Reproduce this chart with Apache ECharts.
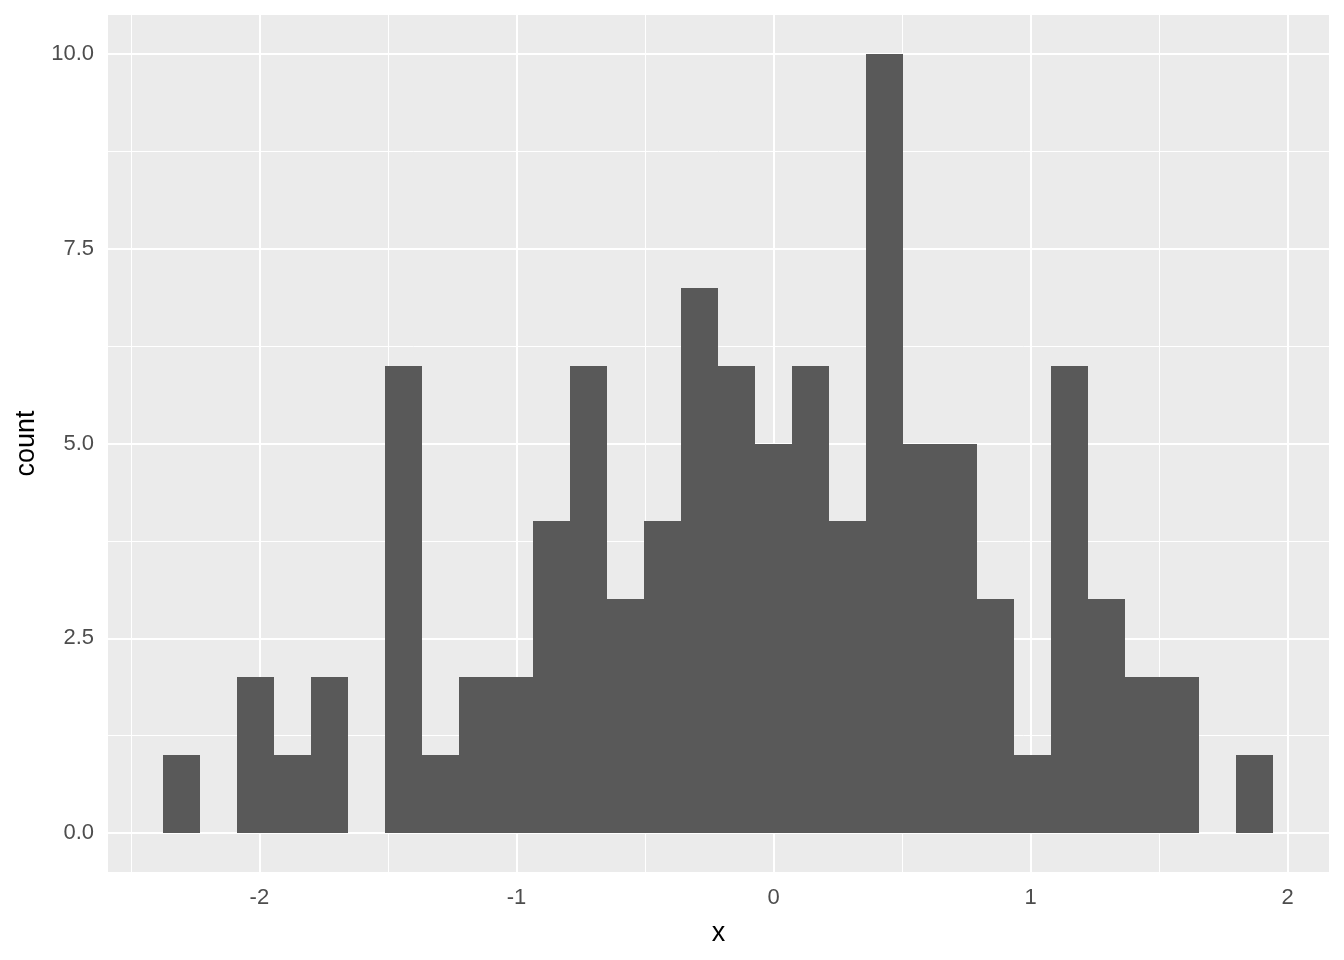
<!DOCTYPE html>
<html>
<head>
<meta charset="utf-8">
<script src="https://cdn.jsdelivr.net/npm/echarts@6/dist/echarts.min.js"></script>
<style>
html,body{margin:0;padding:0;background:#fff;}
#chart{width:1344px;height:960px;}
</style>
</head>
<body>
<div id="chart"></div>
<script>
// Histogram data (30 bins)
const binStart = -2.3735;
const binWidth = 0.14393;
const counts = [1,0,2,1,2,0,6,1,2,2,4,6,3,4,7,6,5,6,4,10,5,5,3,1,6,3,2,2,0,1];
const xTicks = [-2,-1,0,1,2];
const xMinor = [-2.5,-1.5,-0.5,0.5,1.5];
const yTicks = [0,2.5,5,7.5,10];
const yMinor = [1.25,3.75,6.25,8.75];
const xRange = [-2.589, 2.161];
const yRange = [-0.5, 10.5];

const bins = counts.map((c,i)=>[binStart+i*binWidth, binStart+(i+1)*binWidth, c]);

const gridLines = [];
xMinor.forEach(v=>gridLines.push({xAxis:v,lineStyle:{width:1}}));
yMinor.forEach(v=>gridLines.push({yAxis:v,lineStyle:{width:1}}));
xTicks.forEach(v=>gridLines.push({xAxis:v,lineStyle:{width:2}}));
yTicks.forEach(v=>gridLines.push({yAxis:v,lineStyle:{width:2}}));

const chart = echarts.init(document.getElementById('chart'));
const font = 'Liberation Sans, Arial, sans-serif';
chart.setOption({
  animation:false,
  backgroundColor:'#ffffff',
  textStyle:{fontFamily:font},
  grid:{left:108,right:15,top:15,bottom:88,show:true,backgroundColor:'#EBEBEB',borderWidth:0,containLabel:false,outerBoundsMode:'none'},
  xAxis:{
    type:'value',min:xRange[0],max:xRange[1],
    name:'x',nameLocation:'middle',nameGap:48,
    nameTextStyle:{color:'#000',fontSize:27,fontFamily:font},
    axisLine:{show:false},
    axisTick:{show:true,length:7,lineStyle:{color:'#333333',width:2},customValues:xTicks},
    axisLabel:{color:'#4D4D4D',fontSize:22,margin:15,fontFamily:font,customValues:xTicks,formatter:v=>String(v)},
    splitLine:{show:false}
  },
  yAxis:{
    type:'value',min:yRange[0],max:yRange[1],
    name:'count',nameLocation:'middle',nameGap:67,nameRotate:90,
    nameTextStyle:{color:'#000',fontSize:27,fontFamily:font},
    axisLine:{show:false},
    axisTick:{show:true,length:7,lineStyle:{color:'#333333',width:2},customValues:yTicks},
    axisLabel:{color:'#4D4D4D',fontSize:22,margin:14,fontFamily:font,customValues:yTicks,formatter:v=>v.toFixed(1)},
    splitLine:{show:false}
  },
  series:[
    {
      type:'line',data:[],z:1,zlevel:0,silent:true,
      markLine:{silent:true,z:1,symbol:'none',animation:false,label:{show:false},
        lineStyle:{color:'#FFFFFF',type:'solid'},
        emphasis:{disabled:true},
        data:gridLines}
    },
    {
      type:'custom',z:10,silent:true,
      data:bins,
      encode:{x:[0,1],y:2},
      renderItem:function(params,api){
        if (api.value(2) <= 0) return null;
        const p0 = api.coord([api.value(0), api.value(2)]);
        const p1 = api.coord([api.value(1), 0]);
        const x0 = Math.round(p0[0]), x1 = Math.round(p1[0]);
        const y0 = Math.round(p0[1]), y1 = Math.round(p1[1]);
        return {type:'rect',shape:{x:x0,y:y0,width:x1-x0,height:y1-y0},style:{fill:'#595959'}};
      }
    }
  ]
});
</script>
</body>
</html>
